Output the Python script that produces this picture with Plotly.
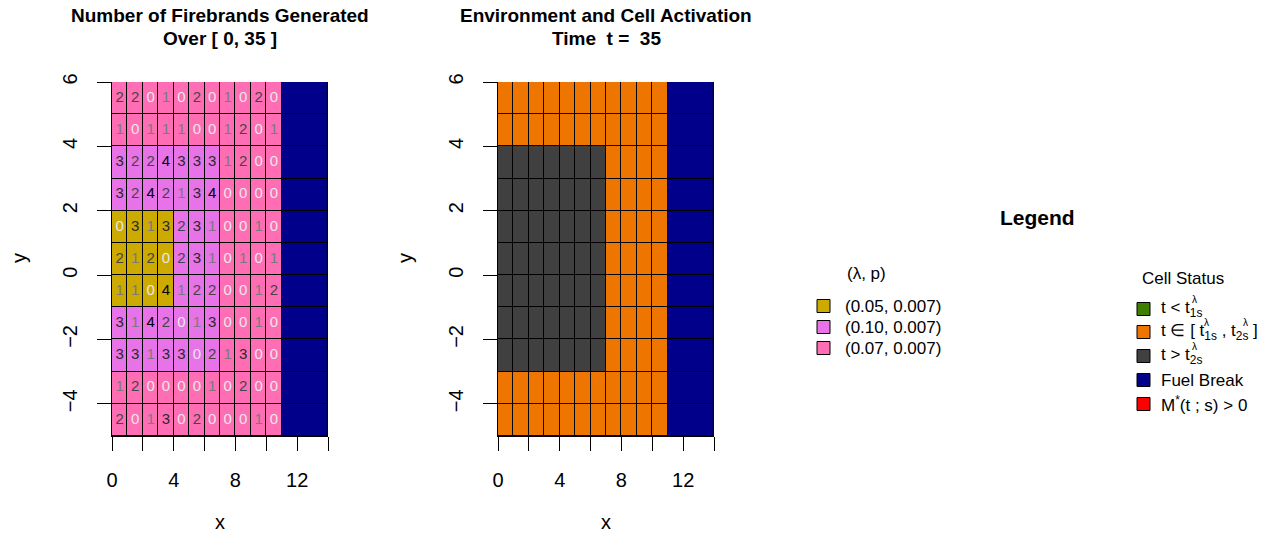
import plotly.graph_objects as go

W, H = 1283, 538
FONT = "Liberation Sans, Arial, sans-serif"

# ---------------- data ----------------
# rows listed from top (y in [5,6]) to bottom (y in [-5,-4]); 11 columns x in [0,11]
firebrands = [
    [2, 2, 0, 1, 0, 2, 0, 1, 0, 2, 0],
    [1, 0, 1, 1, 1, 0, 0, 1, 2, 0, 1],
    [3, 2, 2, 4, 3, 3, 3, 1, 2, 0, 0],
    [3, 2, 4, 2, 1, 3, 4, 0, 0, 0, 0],
    [0, 3, 1, 3, 2, 3, 1, 0, 0, 1, 0],
    [2, 1, 2, 0, 2, 3, 1, 0, 1, 0, 1],
    [1, 1, 0, 4, 1, 2, 2, 0, 0, 1, 2],
    [3, 1, 4, 2, 0, 1, 3, 0, 0, 1, 0],
    [3, 3, 1, 3, 3, 0, 2, 1, 3, 0, 0],
    [1, 2, 0, 0, 0, 0, 1, 0, 2, 0, 0],
    [2, 0, 1, 3, 0, 2, 0, 0, 0, 1, 0],
]
# lambda class: 0 -> (0.05, 0.007), 1 -> (0.10, 0.007), 2 -> (0.07, 0.007)
lam_class = [
    [2] * 11,
    [2] * 11,
    [1] * 7 + [2] * 4,
    [1] * 7 + [2] * 4,
    [0] * 4 + [1] * 3 + [2] * 4,
    [0] * 4 + [1] * 3 + [2] * 4,
    [0] * 4 + [1] * 3 + [2] * 4,
    [1] * 7 + [2] * 4,
    [1] * 7 + [2] * 4,
    [2] * 11,
    [2] * 11,
]
# cell status: 0 -> t < t1s, 1 -> t in [t1s, t2s], 2 -> t > t2s
status = [
    [1] * 11,
    [1] * 11,
    [2] * 7 + [1] * 4,
    [2] * 7 + [1] * 4,
    [2] * 7 + [1] * 4,
    [2] * 7 + [1] * 4,
    [2] * 7 + [1] * 4,
    [2] * 7 + [1] * 4,
    [2] * 7 + [1] * 4,
    [1] * 11,
    [1] * 11,
]
x_edges = list(range(0, 12))          # 0..11
y_edges = list(range(-5, 7))          # -5..6
fuel_x_edges = [11, 14]
lam_labels = ["(0.05, 0.007)", "(0.10, 0.007)", "(0.07, 0.007)"]
lam_colors = ["#CDAA00", "#E872E8", "#FF6EB4"]
status_colors = ["#3F7F00", "#EE7600", "#404040", "#00008B", "#FF0000"]
count_text_colors = ["#E8E8E8", "#7A7A7A", "#454545", "#2A2A2A", "#000000"]

# rows bottom->top for plotly
fb_bt = firebrands[::-1]
lam_bt = lam_class[::-1]
st_bt = status[::-1]


def disc_scale(cols):
    n = len(cols)
    cs = []
    for i, c in enumerate(cols):
        cs.append([i / n, c])
        cs.append([(i + 1) / n, c])
    return cs


fig = go.Figure()

# left panel
fig.add_trace(go.Heatmap(
    x=x_edges, y=y_edges, z=lam_bt, colorscale=disc_scale(lam_colors),
    zmin=-0.5, zmax=2.5, showscale=False, xgap=1, ygap=1, hoverinfo="skip",
    xaxis="x", yaxis="y"))
fig.add_trace(go.Heatmap(
    x=fuel_x_edges, y=y_edges, z=[[0] for _ in range(11)],
    colorscale=[[0, status_colors[3]], [1, status_colors[3]]],
    showscale=False, xgap=1, ygap=1, hoverinfo="skip", xaxis="x", yaxis="y"))
tx, ty, tt, tc = [], [], [], []
for r, row in enumerate(fb_bt):
    for c, v in enumerate(row):
        tx.append(x_edges[c] + 0.5)
        ty.append(y_edges[r] + 0.5)
        tt.append(str(v))
        tc.append(count_text_colors[v])
fig.add_trace(go.Scatter(
    x=tx, y=ty, text=tt, mode="text",
    textfont=dict(color=tc, size=15, family=FONT),
    hoverinfo="skip", showlegend=False, xaxis="x", yaxis="y"))

# right panel
fig.add_trace(go.Heatmap(
    x=x_edges, y=y_edges, z=st_bt, colorscale=disc_scale(status_colors[:3]),
    zmin=-0.5, zmax=2.5, showscale=False, xgap=1, ygap=1, hoverinfo="skip",
    xaxis="x2", yaxis="y2"))
fig.add_trace(go.Heatmap(
    x=fuel_x_edges, y=y_edges, z=[[0] for _ in range(11)],
    colorscale=[[0, status_colors[3]], [1, status_colors[3]]],
    showscale=False, xgap=1, ygap=1, hoverinfo="skip", xaxis="x2", yaxis="y2"))


def px(x):
    return x / W


def py(y):
    return 1 - y / H


xt = [0, 2, 4, 6, 8, 10, 12, 14]
xl = ["0", "", "4", "", "8", "", "12", ""]
yt = [-4, -2, 0, 2, 4, 6]
yl = ["\u22124", "\u22122", "0", "2", "4", "6"]

ax_common = dict(showgrid=False, zeroline=False, ticks="outside", ticklen=14,
                 tickcolor="black", tickwidth=1, showline=True, linecolor="black",
                 linewidth=1, tickfont=dict(size=20, color="black", family=FONT),
                 fixedrange=True, automargin=False)

L0, L1 = 112, 328
R0, R1 = 498, 714
T0, T1 = 82, 436

fig.update_layout(
    width=W, height=H, margin=dict(l=0, r=0, t=0, b=0, autoexpand=False),
    paper_bgcolor="white", plot_bgcolor="black", showlegend=False,
    font=dict(family=FONT, color="black"),
    xaxis=dict(domain=[px(L0), px(L1)], range=[0, 14], tickvals=xt, ticktext=xl,
               anchor="y", ticklabelstandoff=12, **ax_common),
    yaxis=dict(domain=[py(T1), py(T0)], range=[-5, 6], tickvals=yt, ticktext=yl,
               anchor="x", tickangle=-90, ticklabelstandoff=12, **ax_common),
    xaxis2=dict(domain=[px(R0), px(R1)], range=[0, 14], tickvals=xt, ticktext=xl,
                anchor="y2", ticklabelstandoff=12, **ax_common),
    yaxis2=dict(domain=[py(T1), py(T0)], range=[-5, 6], tickvals=yt, ticktext=yl,
                anchor="x2", tickangle=-90, ticklabelstandoff=12, **ax_common),
)

ann = []


def text(x, y, s, size=18, bold=False, xanchor="center", angle=0, color="black"):
    if bold:
        s = "<b>" + s + "</b>"
    ann.append(dict(x=px(x), y=py(y), xref="paper", yref="paper", text=s,
                    showarrow=False, xanchor=xanchor, yanchor="middle",
                    textangle=angle, font=dict(size=size, family=FONT, color=color)))


# titles
text((L0 + L1) / 2, 16, "Number of Firebrands Generated", 19, True)
text((L0 + L1) / 2, 38, "Over [ 0, 35 ]", 19, True)
text((R0 + R1) / 2, 16, "Environment and Cell Activation", 19, True)
text((R0 + R1) / 2, 38, "Time  t =  35", 19, True)
# axis titles
text((L0 + L1) / 2, 522, "x", 20)
text((R0 + R1) / 2, 522, "x", 20)
text(19, 258, "y", 20, angle=-90)
text(405, 258, "y", 20, angle=-90)

# legend header
text(1037, 217, "Legend", 21, True)

# (lambda, p) legend
text(866, 273, "(\u03bb, p)", 17)
shapes = []
lam_y = [306, 327, 348]
for yy, lab, col in zip(lam_y, lam_labels, lam_colors):
    shapes.append(dict(type="rect", xref="paper", yref="paper",
                       x0=px(817), x1=px(830), y0=py(yy + 6.5), y1=py(yy - 6.5),
                       fillcolor=col, line=dict(color="black", width=1)))
    text(843, yy, lab, 17, xanchor="left")

# cell status legend
text(1183, 278, "Cell Status", 17)
st_y = [309, 332, 356, 380, 404]
for yy, col in zip(st_y, status_colors):
    shapes.append(dict(type="rect", xref="paper", yref="paper",
                       x0=px(1137), x1=px(1150), y0=py(yy + 6.5), y1=py(yy - 6.5),
                       fillcolor=col, line=dict(color="black", width=1)))
TX = 1159
text(TX, st_y[0], "t < t<sub>1s</sub>", 17, xanchor="left")
text(TX + 31, st_y[0] - 10, "\u03bb", 10, xanchor="left")
text(TX, st_y[1], "t \u2208 [ t<sub>1s</sub> , t<sub>2s</sub> ]", 17, xanchor="left")
text(TX + 43, st_y[1] - 10, "\u03bb", 10, xanchor="left")
text(TX + 82, st_y[1] - 10, "\u03bb", 10, xanchor="left")
text(TX, st_y[2], "t > t<sub>2s</sub>", 17, xanchor="left")
text(TX + 31, st_y[2] - 10, "\u03bb", 10, xanchor="left")
text(TX, st_y[3], "Fuel Break", 17, xanchor="left")
text(TX, st_y[4], "M<sup>*</sup>(t ; s) > 0", 17, xanchor="left")

fig.update_layout(annotations=ann, shapes=shapes)
fig.write_html("out.html")
